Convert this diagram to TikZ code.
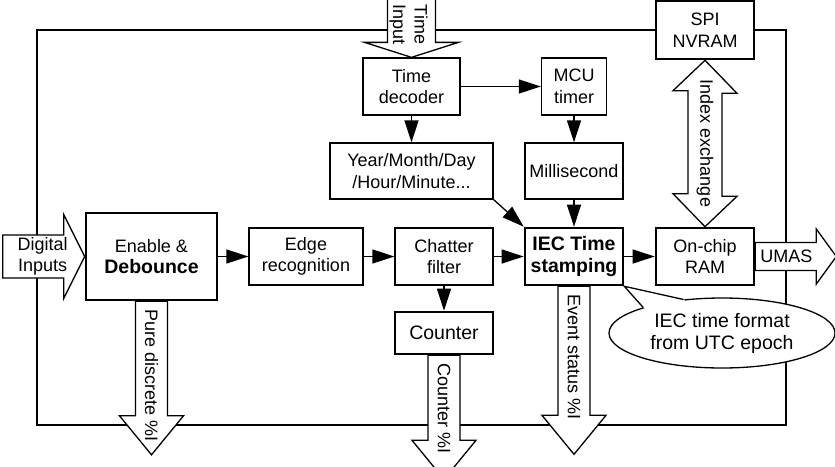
\documentclass[tikz,border=0pt]{standalone}
\usepackage{fontspec}
\setmainfont{Liberation Sans}
\usetikzlibrary{
  shapes,       % ellipse
  arrows.meta,
  positioning,
  backgrounds,  % frame, fat arrows and note sit behind the blocks
  calc,         % Calculations $...$
}
\newcommand{\boldtxt}[1]{{\fontsize{19.5}{22}\selectfont\bfseries #1}}
\def\myshaft{16}
\def\myhead{39}
\tikzset{
  font=\fontsize{18}{21.6}\selectfont,
  >={Triangle[length=22pt,width=14pt]},
  wire/.style={
    line width=1.3pt
  },
  blk/.style={
    draw,
    wire,
    fill=white,
    rectangle,
    align=center,
    inner sep=0pt
  },
  blk thick/.style={
    blk,
    line width=2.6pt
  },
  big font/.style={
    font=\fontsize{19.5}{22}\selectfont
  },
  flow/.style={
    ->,
    wire
  },
  fat/.style={
    draw,
    wire,
    fill=white
  },
  vtext/.style={
    rotate=-90,
    align=center,
    inner sep=0pt
  },
  note/.style={
    ellipse,
    draw,
    wire,
    fill=white,
    align=center,
    inner sep=0pt
  }
}

\begin{document}
\begin{tikzpicture}[x=1pt,y=-1pt]
\useasboundingbox (0,0) rectangle (835,466);

% blocks
\node[blk, minimum width=97, minimum height=57] (tdec) at (411.5,86.5) {Time\\decoder};
\node[blk, minimum width=65, minimum height=57] (mcu) at (574,86.5) {MCU\\timer};
\node[blk, minimum width=163, minimum height=56] (ymd) at (411.5,171) {Year/Month/Day\\/Hour/Minute...};
\node[blk, minimum width=98, minimum height=56] (msec) at (574,171) {Millisecond};
\node[blk thick, minimum width=98, minimum height=58] (spi) at (705,30) {SPI\\NVRAM};
\node[blk thick, minimum width=131, minimum height=87] (enab) at (151.5,256.5) {Enable \&\\\boldtxt{Debounce}};
\node[blk, minimum width=114, minimum height=57] (edge) at (306,256.5) {Edge\\recognition};
\node[blk, minimum width=98, minimum height=57] (chat) at (444,256.5) {Chatter\\filter};
\node[blk thick, minimum width=98, minimum height=57,
      font=\fontsize{19.5}{22}\selectfont\bfseries] (iec) at (574,256.5) {IEC Time\\stamping};
\node[blk thick, minimum width=98, minimum height=57] (ram) at (705,256.5) {On-chip\\RAM};
\node[blk thick, big font, minimum width=98, minimum height=42] (cnt) at (444,333) {Counter};

% signal flow
\draw[flow] (tdec) -- (mcu);
\draw[flow] (tdec) -- (ymd);
\draw[flow] (mcu) -- (msec);
\draw[flow] (msec) -- (iec);
\draw[flow] (ymd.south east) -- (iec.north west);
\draw[flow] (enab) -- (edge);
\draw[flow] (edge) -- (chat);
\draw[flow] (chat) -- (iec);
\draw[flow] (iec) -- (ram);
\draw[flow] (chat) -- (cnt);

\begin{pgfonlayer}{background}
\draw[wire] (37,30) rectangle (786,425);
% note on the time format
\node[note, big font, minimum width=226, minimum height=70] (utc) at (722,333) {IEC time format\\from UTC epoch};
\fill[white] (utc.162) -- (iec.south east) -- (utc.139) -- ($(utc.center)!.85!(utc.139)$)
  -- ($(utc.center)!.85!(utc.162)$) -- cycle;
\draw[wire] (utc.162) -- (iec.south east) -- (utc.139);
% time input
\draw[fat] ($(tdec.north)+(-24,-70)$) -- ++(0,55) -- ++(-23,0) -- (tdec.north)
  -- ($(tdec.north)+(47,-15)$) -- ++(-23,0) -- ++(0,-55) -- cycle;
\node[vtext] (tin) at ($(tdec.north)+(-3,-33)$) {Time\\Input};
% digital inputs
\draw[fat] ($(enab.west)+(-82,-21.5)$) -- ++(61,0) -- ++(0,-20.5) -- (enab.west)
  -- ($(enab.west)+(-21,42)$) -- ++(0,-20.5) -- ++(-61,0) -- cycle;
\node[align=center, inner sep=0pt] (din) at ($(enab.west)+(-42,0)$) {Digital\\Inputs};
% UMAS
\draw[fat] ($(ram.east)+(0,-14)$) -- ++(61,0) -- ++(0,-13.5) -- ($(ram.east)+(81,0)$)
  -- ($(ram.east)+(61,27.5)$) -- ++(0,-13.5) -- ++(-61,0) -- cycle;
\node[inner sep=0pt] (umas) at ($(ram.east)+(31,0)$) {UMAS};
% index exchange
\draw[fat] (spi.south) -- ++(32,33) -- ++(-15,0) -- ++(0,103) -- ++(15,0) -- (ram.north)
  -- ++(-32,-33) -- ++(15,0) -- ++(0,-103) -- ++(-15,0) -- cycle;
\node[vtext] (idx) at ($(spi.south)!.5!(ram.north)$) {Index exchange};
% outputs
\foreach \src/\len/\txt in {enab/153.5/Pure discrete, cnt/124/Counter, iec/168/Event status}{
  \draw[fat] ($(\src.south)+(-\myshaft,0)$) -- ++(0,{\len-\myhead}) -- ++(-\myshaft,0)
    -- ($(\src.south)+(0,\len)$) -- ($(\src.south)+(2*\myshaft,{\len-\myhead})$)
    -- ++(-\myshaft,0) -- ($(\src.south)+(\myshaft,0)$) -- cycle;
  \node[vtext, anchor=west] (\src-out) at ($(\src.south)+(0,8)$) {\txt{} \%I};
}
\end{pgfonlayer}
\end{tikzpicture}
\end{document}
